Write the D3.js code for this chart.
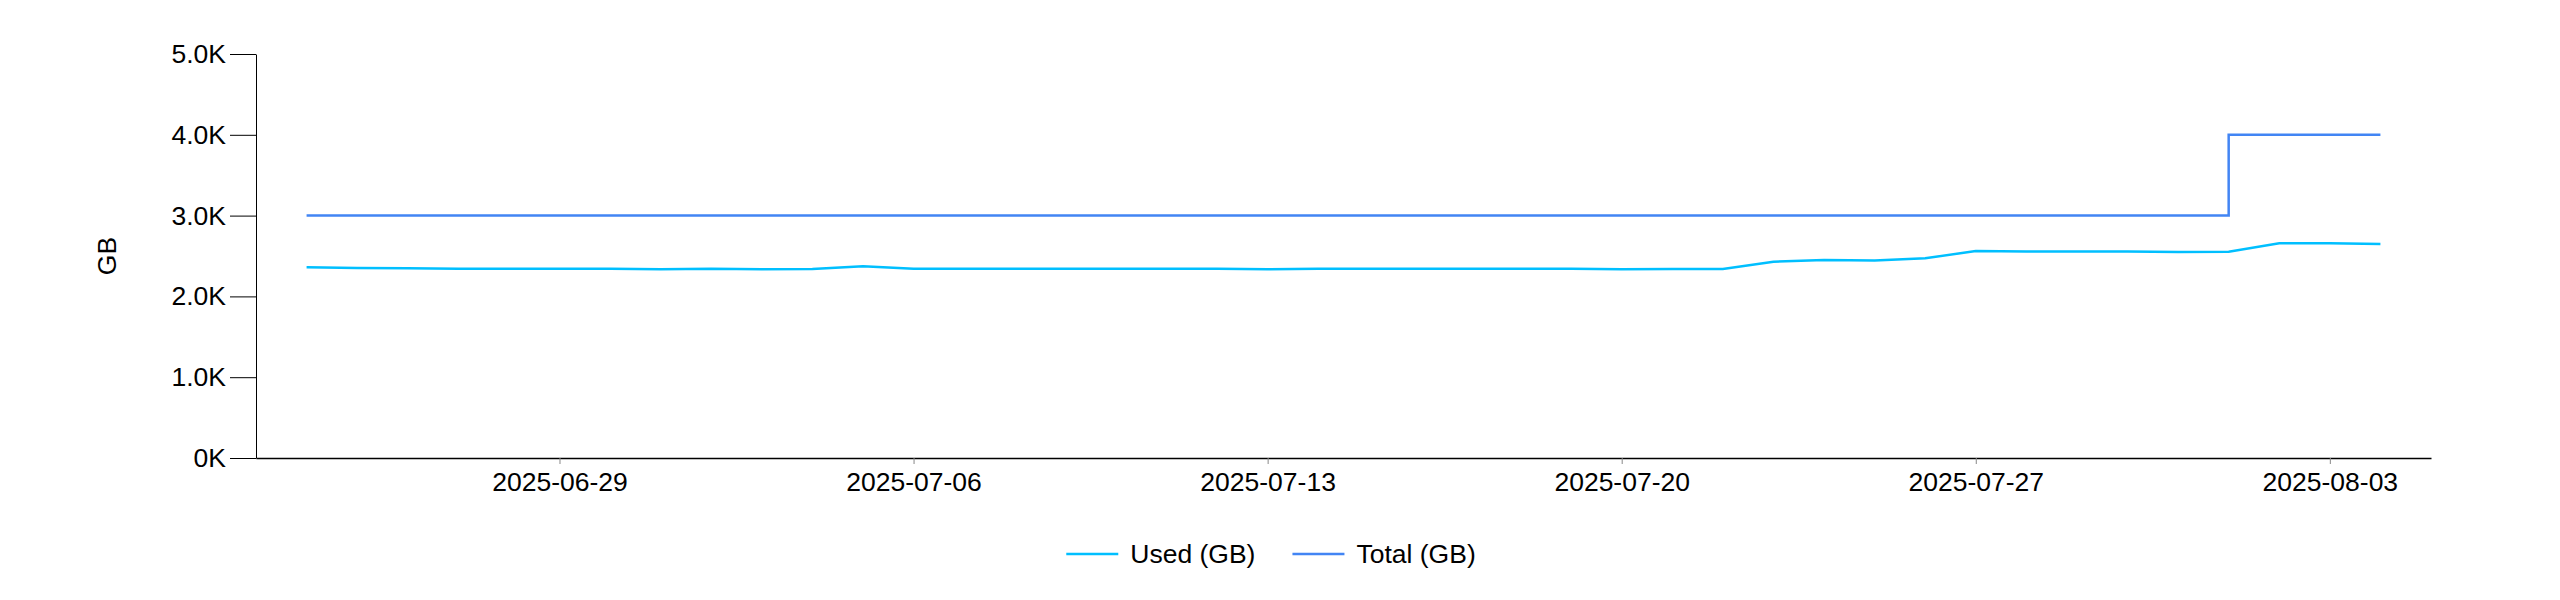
<!DOCTYPE html>
<html>
<head>
<meta charset="utf-8">
<script src="https://cdn.jsdelivr.net/npm/d3@7"></script>
<style>
  html, body { margin: 0; padding: 0; background: #fff; }
  svg { display: block; font-family: "Liberation Sans", Arial, sans-serif; }
  .tick text { font-size: 26.5px; fill: #000; }
  .x-axis .tick line { stroke: #888; }
  .legend text { font-size: 26.5px; fill: #000; }
</style>
</head>
<body>
<svg id="chart" width="2560" height="600"></svg>
<script>
const dates = [
  '2025-06-24', '2025-06-25', '2025-06-26', '2025-06-27', '2025-06-28', '2025-06-29', '2025-06-30',
  '2025-07-01', '2025-07-02', '2025-07-03', '2025-07-04', '2025-07-05', '2025-07-06', '2025-07-07',
  '2025-07-08', '2025-07-09', '2025-07-10', '2025-07-11', '2025-07-12', '2025-07-13', '2025-07-14',
  '2025-07-15', '2025-07-16', '2025-07-17', '2025-07-18', '2025-07-19', '2025-07-20', '2025-07-21',
  '2025-07-22', '2025-07-23', '2025-07-24', '2025-07-25', '2025-07-26', '2025-07-27', '2025-07-28',
  '2025-07-29', '2025-07-30', '2025-07-31', '2025-08-01', '2025-08-02', '2025-08-03', '2025-08-04'
];

const usedGB = [
  2360, 2352, 2348, 2343, 2343, 2343, 2343,
  2335, 2343, 2335, 2339, 2372, 2343, 2343,
  2343, 2343, 2343, 2343, 2343, 2335, 2343,
  2343, 2343, 2343, 2343, 2343, 2335, 2339,
  2339, 2430, 2450, 2443, 2471, 2562, 2556,
  2556, 2555, 2550, 2554, 2657, 2657, 2649
];

const totalGB = [
  3000, 3000, 3000, 3000, 3000, 3000, 3000,
  3000, 3000, 3000, 3000, 3000, 3000, 3000,
  3000, 3000, 3000, 3000, 3000, 3000, 3000,
  3000, 3000, 3000, 3000, 3000, 3000, 3000,
  3000, 3000, 3000, 3000, 3000, 3000, 3000,
  3000, 3000, 3000, 4000, 4000, 4000, 4000
];

const yTicks = [0, 1000, 2000, 3000, 4000, 5000];
const xDomain = ['2025-06-23', '2025-08-05'];

const seriesNames = ['Used (GB)', 'Total (GB)'];
const seriesColors = ['#00bfff', '#4285f4'];

class StorageChart {

  constructor(_config) {
    this.config = {
      parentElement: _config.parentElement,
      left: 256,
      right: 2431,
      top: 54,
      bottom: 458,
      legendY: 554,
      legendCenter: 1271
    };
    this.parseDate = d3.timeParse('%Y-%m-%d');
    this.initVis();
  }

  initVis() {
    let vis = this;
    const c = vis.config;

    vis.svg = d3.select(c.parentElement);

    vis.x = d3.scaleTime()
      .domain(xDomain.map(vis.parseDate))
      .range([c.left, c.right]);

    vis.y = d3.scaleLinear()
      .domain([0, 5000])
      .range([c.bottom, c.top]);

    vis.series = [
      { name: seriesNames[0], color: seriesColors[0], values: usedGB, curve: d3.curveLinear },
      { name: seriesNames[1], color: seriesColors[1], values: totalGB, curve: d3.curveStepAfter }
    ].map(s => ({
      ...s,
      points: dates.map((d, i) => ({ date: vis.parseDate(d), value: s.values[i] }))
    }));

    vis.renderVis();
  }

  renderVis() {
    let vis = this;
    const c = vis.config;

    // x axis
    const xAxis = d3.axisBottom(vis.x)
      .ticks(d3.timeWeek.every(1))
      .tickFormat(d3.timeFormat('%Y-%m-%d'))
      .tickSizeInner(6)
      .tickSizeOuter(0)
      .tickPadding(8);

    vis.svg.append('g')
      .attr('class', 'x-axis')
      .attr('transform', `translate(0,${c.bottom})`)
      .call(xAxis)
      .call(g => g.select('.domain').attr('stroke', '#000').attr('stroke-width', 1.5))
      .call(g => g.selectAll('.tick text').attr('font-family', null).attr('font-size', null));

    // y axis
    const yAxis = d3.axisLeft(vis.y)
      .tickValues(yTicks)
      .tickFormat(d => d === 0 ? '0K' : (d / 1000).toFixed(1) + 'K')
      .tickSizeInner(26)
      .tickSizeOuter(0)
      .tickPadding(4);

    vis.svg.append('g')
      .attr('class', 'y-axis')
      .attr('transform', `translate(${c.left},0)`)
      .call(yAxis)
      .call(g => g.selectAll('.tick text').attr('font-family', null).attr('font-size', null));

    vis.svg.append('text')
      .attr('transform', `translate(107,${(c.top + c.bottom) / 2}) rotate(-90)`)
      .attr('text-anchor', 'middle')
      .attr('dominant-baseline', 'central')
      .attr('font-size', 26.5)
      .text('GB');

    // lines
    vis.svg.selectAll('.series-line')
      .data(vis.series)
      .join('path')
      .attr('class', 'series-line')
      .attr('fill', 'none')
      .attr('stroke', d => d.color)
      .attr('stroke-width', 2.5)
      .attr('d', d => d3.line()
        .x(p => vis.x(p.date))
        .y(p => vis.y(p.value))
        .curve(d.curve)(d.points));

    // legend
    const legend = vis.svg.append('g').attr('class', 'legend');
    let offset = 0;
    vis.series.forEach(s => {
      const item = legend.append('g').attr('transform', `translate(${offset},0)`);
      item.append('line')
        .attr('x1', 0).attr('x2', 52)
        .attr('y1', 0).attr('y2', 0)
        .attr('stroke', s.color)
        .attr('stroke-width', 2.5);
      const label = item.append('text')
        .attr('x', 64)
        .attr('dominant-baseline', 'central')
        .text(s.name);
      offset += 64 + label.node().getComputedTextLength() + 37;
    });
    const legendW = offset - 37;
    legend.attr('transform', `translate(${c.legendCenter - legendW / 2},${c.legendY})`);
  }
}

new StorageChart({ parentElement: '#chart' });
</script>
</body>
</html>
